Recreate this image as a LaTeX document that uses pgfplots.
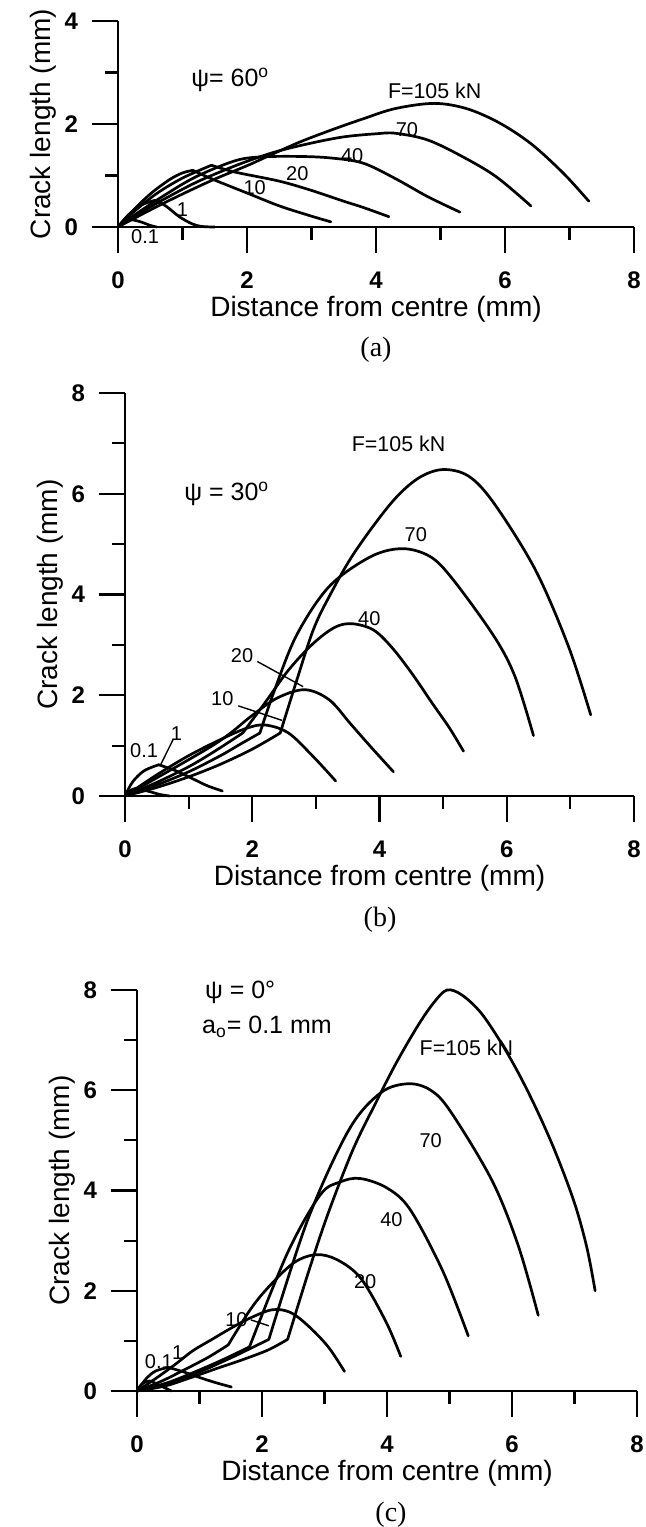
\documentclass[border=0pt]{standalone}
\usepackage{fontspec}
\setmainfont{Liberation Sans}
\newfontfamily\seriffont{Liberation Serif}
\usepackage{pgfplots}
\pgfplotsset{compat=1.18}
\pgfplotsset{
  panel/.style={
    scale only axis, axis lines=left, axis line style={-, line width=1.1pt},
    xmin=0, xmax=8, ymin=0,
    xtick={0,2,4,6,8}, minor xtick={1,3,5,7},
    tick align=outside, major tick length=13pt, minor tick length=6.5pt,
    every tick/.append style={line width=1.1pt, black},
    ticklabel style={font=\fontsize{12}{14}\selectfont\bfseries},
    /pgf/number format/assume math mode=true,
    xticklabel style={yshift=-6pt},
    yticklabel style={xshift=-3.5pt},
    xlabel={Distance from centre (mm)}, ylabel={Crack length (mm)},
    label style={font=\fontsize{14}{16}\selectfont},
    xlabel style={at={(axis description cs:0.5,0)}, anchor=center, yshift=-41pt},
    ylabel style={at={(axis description cs:0,0.5)}, anchor=center, yshift=37.5pt},
    clip=false,
    every axis plot/.append style={black, line width=1.35pt, line join=round, line cap=round},
  },
  cv/.style={smooth, tension=0.55},
}
\tikzset{lbl/.style={font=\fontsize{10}{12}\selectfont, inner sep=0pt}}
\begin{document}
\begin{tikzpicture}
\useasboundingbox (0pt,0pt) rectangle (322.5pt,763.5pt);
% ---------------- (a) psi = 60
\begin{axis}[panel, at={(59pt,650pt)}, anchor=south west, width=258pt, height=103pt,
  ymax=4, ytick={0,2,4}, minor ytick={1,3}]
\addplot[cv] coordinates {(0,0) (0.08,0.09) (0.2,0.14) (0.35,0.1) (0.5,0.03) (0.6,0)};
\addplot[cv] coordinates {(0,0) (0.15,0.22) (0.35,0.42) (0.58,0.52)};
\addplot[cv] coordinates {(0.58,0.52) (0.75,0.4) (0.95,0.2) (1.15,0.06) (1.3,0.01) (1.5,0)};
\addplot[cv] coordinates {(0,0) (0.2,0.28) (0.5,0.64) (0.8,0.92) (1.0,1.05) (1.16,1.1)};
\addplot[cv] coordinates {(1.16,1.1) (1.5,0.91) (2.0,0.66) (2.5,0.41) (3.0,0.21) (3.3,0.1)};
\addplot[cv] coordinates {(0,0) (0.25,0.3) (0.6,0.65) (1.0,0.95) (1.45,1.2)};
\addplot[cv] coordinates {(1.45,1.2) (1.8,1.07) (2.5,0.89) (3.0,0.71) (3.5,0.5) (3.8,0.38) (4.2,0.2)};
\addplot[cv] coordinates {(0,0) (0.3,0.27) (0.7,0.6) (1.2,0.97) (1.8,1.28) (2.2,1.36) (2.8,1.37) (3.3,1.34) (3.8,1.24) (4.3,0.94) (4.8,0.59) (5.3,0.29)};
\addplot[cv] coordinates {(0,0) (0.3,0.24) (0.7,0.53) (1.2,0.86) (1.7,1.13) (2.1,1.32) (2.5,1.48) (3.0,1.63) (3.5,1.75) (4.0,1.81) (4.3,1.82) (4.8,1.69) (5.35,1.36) (5.87,0.97) (6.4,0.41)};
\addplot[cv] coordinates {(0,0) (0.5,0.33) (1.0,0.64) (1.5,0.93) (2.0,1.19) (2.3,1.36) (2.8,1.64) (3.3,1.88) (3.8,2.1) (4.3,2.3) (4.9,2.4) (5.4,2.3) (5.9,2.03) (6.4,1.62) (6.9,1.05) (7.3,0.5)};
\node[font=\fontsize{12.5}{14}\selectfont] at (axis cs:1.74,2.85) {ψ= 60\textsuperscript{o}};
\node[font=\fontsize{10.7}{12}\selectfont] at (axis cs:4.91,2.64) {F=105 kN};
\node[lbl] at (axis cs:4.48,1.9) {70};
\node[lbl] at (axis cs:3.63,1.38) {40};
\node[lbl] at (axis cs:2.78,1.04) {20};
\node[lbl] at (axis cs:2.12,0.77) {10};
\node[lbl] at (axis cs:1.0,0.33) {1};
\node[lbl] at (axis cs:0.42,-0.19) {0.1};
\end{axis}
\node[font=\seriffont\fontsize{14}{16}\selectfont] at (188pt,588.5pt) {(a)};
% ---------------- (b) psi = 30
\begin{axis}[panel, at={(62.5pt,365.5pt)}, anchor=south west, width=254.5pt, height=201.5pt,
  ymax=8, ytick={0,2,4,6,8}, minor ytick={1,3,5,7}]
\addplot[cv] coordinates {(0,0) (0.08,0.1) (0.17,0.15) (0.35,0.1) (0.55,0.03) (0.7,0)};
\addplot[cv] coordinates {(0,0) (0.12,0.28) (0.3,0.5) (0.53,0.62)};
\addplot[cv] coordinates {(0.53,0.62) (0.8,0.5) (1.1,0.32) (1.3,0.2) (1.53,0.1)};
\addplot[cv] coordinates {(0,0) (0.5,0.42) (1.0,0.8) (1.5,1.12) (1.9,1.34) (2.2,1.41) (2.57,1.25) (2.96,0.78) (3.31,0.3)};
\addplot[cv] coordinates {(0,0) (0.5,0.36) (1.0,0.72) (1.4,1.02) (1.66,1.25) (2.0,1.6) (2.4,1.95) (2.83,2.11) (3.21,1.91) (3.54,1.44) (3.86,0.98) (4.22,0.48)};
\addplot[cv] coordinates {(0,0) (0.5,0.27) (1.0,0.58) (1.4,0.88) (1.85,1.25)};
\addplot[cv] coordinates {(1.85,1.25) (2.2,1.85) (2.57,2.5) (2.96,3.03) (3.3,3.35) (3.57,3.42) (3.9,3.3) (4.18,2.97) (4.5,2.45) (4.83,1.84) (5.1,1.35) (5.32,0.89)};
\addplot[cv] coordinates {(0,0) (0.5,0.22) (1.0,0.48) (1.5,0.8) (1.8,1.02) (2.12,1.25)};
\addplot[cv] coordinates {(2.12,1.25) (2.35,2.1) (2.7,3.2) (3.21,4.16) (3.86,4.75) (4.36,4.91) (4.8,4.75) (5.16,4.29) (5.8,3.17) (6.13,2.37) (6.42,1.2)};
\addplot[cv] coordinates {(0,0) (0.5,0.17) (1.0,0.38) (1.5,0.63) (2.0,0.93) (2.44,1.25)};
\addplot[cv] coordinates {(2.44,1.25) (2.7,2.3) (2.96,3.3) (3.21,3.96) (3.6,4.82) (4.18,5.81) (4.6,6.3) (4.99,6.48) (5.4,6.35) (5.8,5.81) (6.45,4.49) (6.97,2.97) (7.32,1.61)};
\node[font=\fontsize{12.5}{14}\selectfont] at (axis cs:1.6,6.0) {ψ = 30\textsuperscript{o}};
\node[font=\fontsize{10.7}{12}\selectfont] at (axis cs:4.3,7.0) {F=105 kN};
\node[lbl] at (axis cs:4.57,5.19) {70};
\node[lbl] at (axis cs:3.84,3.53) {40};
\node[lbl] at (axis cs:1.84,2.79) {20};
\draw[line width=0.7pt] (axis cs:2.08,2.67) -- (axis cs:2.8,2.17);
\node[lbl] at (axis cs:1.53,1.94) {10};
\draw[line width=0.7pt] (axis cs:1.78,1.79) -- (axis cs:2.47,1.5);
\node[lbl] at (axis cs:0.3,0.9) {0.1};
\node[lbl] at (axis cs:0.81,1.23) {1};
\draw[line width=0.7pt] (axis cs:0.76,1.13) -- (axis cs:0.56,0.62);
\end{axis}
\node[font=\seriffont\fontsize{14}{16}\selectfont] at (190pt,303.5pt) {(b)};
% ---------------- (c) psi = 0
\begin{axis}[panel, at={(68.5pt,68pt)}, anchor=south west, width=250pt, height=200.5pt,
  ymax=8, ytick={0,2,4,6,8}, minor ytick={1,3,5,7}]
\addplot[cv] coordinates {(0,0) (0.08,0.14) (0.2,0.2) (0.35,0.12) (0.55,0)};
\addplot[cv] coordinates {(0,0) (0.15,0.25) (0.3,0.4) (0.5,0.47)};
\addplot[cv] coordinates {(0.5,0.47) (0.75,0.38) (1.0,0.27) (1.25,0.17) (1.51,0.08)};
\addplot[cv] coordinates {(0,0) (0.3,0.25) (0.6,0.52) (0.89,0.8) (1.2,1.03) (1.5,1.25) (1.8,1.45) (2.16,1.62) (2.45,1.57) (2.73,1.31) (3.06,0.88) (3.32,0.39)};
\addplot[cv] coordinates {(0,0) (0.4,0.2) (0.8,0.45) (1.15,0.68) (1.46,0.92)};
\addplot[cv] coordinates {(1.46,0.92) (1.8,1.6) (2.08,2.04) (2.5,2.55) (2.86,2.72) (3.2,2.62) (3.58,2.25) (3.98,1.39) (4.22,0.69)};
\addplot[cv] coordinates {(0,0) (0.5,0.17) (1.0,0.42) (1.4,0.64) (1.8,0.88)};
\addplot[cv] coordinates {(1.8,0.88) (2.41,2.76) (2.93,3.91) (3.25,4.17) (3.57,4.24) (4.0,4.05) (4.37,3.62) (4.89,2.4) (5.3,1.1)};
\addplot[cv] coordinates {(0,0) (0.5,0.14) (1.0,0.38) (1.5,0.66) (1.8,0.84) (2.11,1.03)};
\addplot[cv] coordinates {(2.11,1.03) (2.73,3.41) (3.39,5.21) (3.9,5.95) (4.34,6.13) (4.7,6.0) (5.02,5.57) (5.68,4.2) (6.1,2.9) (6.42,1.51)};
\addplot[cv] coordinates {(0,0) (0.45,0.1) (0.89,0.28) (1.3,0.46) (1.68,0.62) (2.1,0.82) (2.41,1.03)};
\addplot[cv] coordinates {(2.41,1.03) (2.75,2.4) (3.06,3.55) (3.45,4.8) (3.8,5.7) (4.15,6.55) (4.5,7.3) (4.75,7.75) (4.96,8.0) (5.2,7.9) (5.5,7.55) (5.8,7.0) (6.1,6.35) (6.4,5.6) (6.7,4.75) (7.0,3.75) (7.2,2.85) (7.33,2.0)};
\node[font=\fontsize{12.5}{14}\selectfont] at (axis cs:1.65,7.96) {ψ = 0°};
\node[font=\fontsize{12.5}{14}\selectfont] at (axis cs:2.08,7.27) {a\textsubscript{o}= 0.1 mm};
\node[font=\fontsize{10.7}{12}\selectfont] at (axis cs:5.27,6.84) {F=105 kN};
\node[lbl] at (axis cs:4.7,5.0) {70};
\node[lbl] at (axis cs:4.07,3.42) {40};
\node[lbl] at (axis cs:3.65,2.18) {20};
\node[lbl] at (axis cs:1.59,1.42) {10};
\draw[line width=0.7pt] (axis cs:1.82,1.42) -- (axis cs:2.11,1.3);
\node[lbl] at (axis cs:0.35,0.58) {0.1};
\node[lbl] at (axis cs:0.65,0.77) {1};
\end{axis}
\node[font=\seriffont\fontsize{14}{16}\selectfont] at (195.5pt,6pt) {(c)};
\end{tikzpicture}
\end{document}
